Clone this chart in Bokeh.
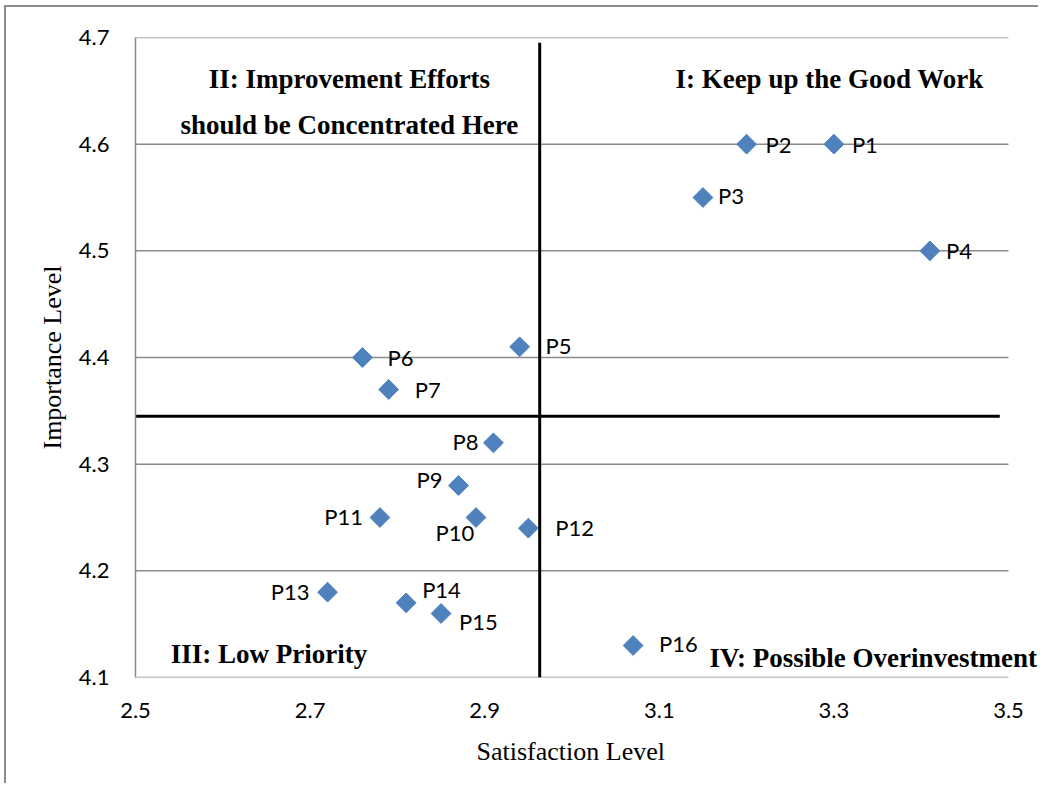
import math
from bokeh.plotting import figure
from bokeh.models import ColumnDataSource, FixedTicker, PrintfTickFormatter, Label, Title
from bokeh.core.properties import value
from bokeh.embed import file_html
from bokeh.resources import INLINE

# ---- data ----
names = ["P1", "P2", "P3", "P4", "P5", "P6", "P7", "P8",
         "P9", "P10", "P11", "P12", "P13", "P14", "P15", "P16"]
satisfaction = [3.30, 3.20, 3.15, 3.41, 2.94, 2.76, 2.79, 2.91,
                2.87, 2.89, 2.78, 2.95, 2.72, 2.81, 2.85, 3.07]
importance = [4.60, 4.60, 4.55, 4.50, 4.41, 4.40, 4.37, 4.32,
              4.28, 4.25, 4.25, 4.24, 4.18, 4.17, 4.16, 4.13]
x_ticks = [2.5, 2.7, 2.9, 3.1, 3.3, 3.5]
y_ticks = [4.1, 4.2, 4.3, 4.4, 4.5, 4.6, 4.7]
sat_cut = 2.963      # vertical quadrant divider
imp_cut = 4.345      # horizontal quadrant divider
quadrant_titles = ["I: Keep up the Good Work",
                   "II: Improvement Efforts",
                   "should be Concentrated Here",
                   "III: Low Priority",
                   "IV: Possible Overinvestment"]
x_title = "Satisfaction Level"
y_title = "Importance Level"

# ---- label layout (screen pixel offsets, style only) ----
lab_dx = [18, 19, 15, 16, 26, 25, 26, -15, -16, -21, -17, 27, -18, 16, 18, 26]
lab_dy = [0, 0, -2, 0, -1, 0, 0, -1, -6, 15, -1, -1, -1, -13, 8, -2]
lab_align = ["left", "left", "left", "left", "left", "left", "left", "right",
             "right", "center", "right", "left", "right", "left", "left", "left"]

GRID = "#8a8a8a"
BLUE = "#4F81BD"

W, H = 1034, 778
FL, FR, FT, FB = 129, 1002, 30, 670   # nominal plot box (x 2.5..3.5)
x_lo, x_hi = x_ticks[0], x_ticks[-1]
# extend the frame to the canvas edge so the bottom-right title is not clipped
x_end = x_hi + (x_hi - x_lo) * (W - FR) / (FR - FL)

p = figure(width=W, height=H, output_backend="svg", toolbar_location=None,
           x_range=(x_lo, x_end), y_range=(y_ticks[0], y_ticks[-1]),
           min_border_left=FL, min_border_right=0,
           min_border_top=FT, min_border_bottom=H - FB)
p.styles = {"position": "relative", "left": "4px", "top": "5px",
            "border-left": "2px solid #8c8c8c", "border-top": "2px solid #8c8c8c"}
p.outline_line_color = None
p.background_fill_color = "white"
p.border_fill_color = "white"

p.xgrid.grid_line_color = None
p.ygrid.grid_line_color = None

# horizontal gridlines limited to the 2.5..3.5 span
p.segment(x0=[x_lo] * len(y_ticks), y0=y_ticks, x1=[x_hi] * len(y_ticks), y1=y_ticks,
          line_color=GRID, line_width=1.5)

for ax in (p.xaxis[0], p.yaxis[0]):
    ax.major_tick_line_color = None
    ax.minor_tick_line_color = None
    ax.major_tick_out = 0
    ax.major_tick_in = 0
    ax.formatter = PrintfTickFormatter(format="%.1f")
    ax.major_label_text_font = "Lato"
    ax.major_label_text_font_size = "22px"
    ax.major_label_text_color = "black"
    ax.axis_label_text_font = "Liberation Serif"
    ax.axis_label_text_font_size = "26px"
    ax.axis_label_text_font_style = "normal"
    ax.axis_label_text_color = "black"

p.yaxis[0].axis_line_color = GRID
p.yaxis[0].axis_line_width = 1.5
p.xaxis[0].axis_line_color = None

p.xaxis[0].ticker = FixedTicker(ticks=x_ticks)
p.yaxis[0].ticker = FixedTicker(ticks=y_ticks)
p.yaxis[0].axis_label = y_title
p.xaxis[0].major_label_standoff = 25
p.yaxis[0].major_label_standoff = 26
p.yaxis[0].axis_label_standoff = 9

# x-axis title, centred under the 2.5..3.5 span
p.add_layout(Title(text=x_title, align="left", offset=341, standoff=28,
                   text_font="Liberation Serif", text_font_size="26px",
                   text_font_style="normal", text_color="black"), "below")

# quadrant dividers
p.segment(x0=[sat_cut], y0=[4.1], x1=[sat_cut], y1=[4.695],
          line_color="black", line_width=3)
p.segment(x0=[x_lo], y0=[imp_cut], x1=[3.49], y1=[imp_cut],
          line_color="black", line_width=3)

src = ColumnDataSource(dict(x=satisfaction, y=importance, name=names,
                            dx=lab_dx, dy=lab_dy, align=lab_align))
p.scatter("x", "y", source=src, marker="square", size=14, angle=math.pi / 4,
          fill_color=BLUE, line_color=BLUE)
p.text("x", "y", text="name", source=src, x_offset="dx", y_offset="dy",
       text_align="align", text_baseline="middle",
       text_font=value("Lato"), text_font_size="22px", text_color="black")

# quadrant titles
def qlabel(x, y, txt):
    p.add_layout(Label(x=x, y=y, text=txt, text_font="Liberation Serif",
                       text_font_size="27px", text_font_style="bold",
                       text_align="center", text_baseline="middle",
                       text_color="black"))

qlabel(3.295, 4.661, quadrant_titles[0])
qlabel(2.745, 4.661, quadrant_titles[1])
qlabel(2.745, 4.618, quadrant_titles[2])
qlabel(2.653, 4.1225, quadrant_titles[3])
qlabel(3.345, 4.118, quadrant_titles[4])

open("out.html", "w").write(file_html(p, INLINE))
